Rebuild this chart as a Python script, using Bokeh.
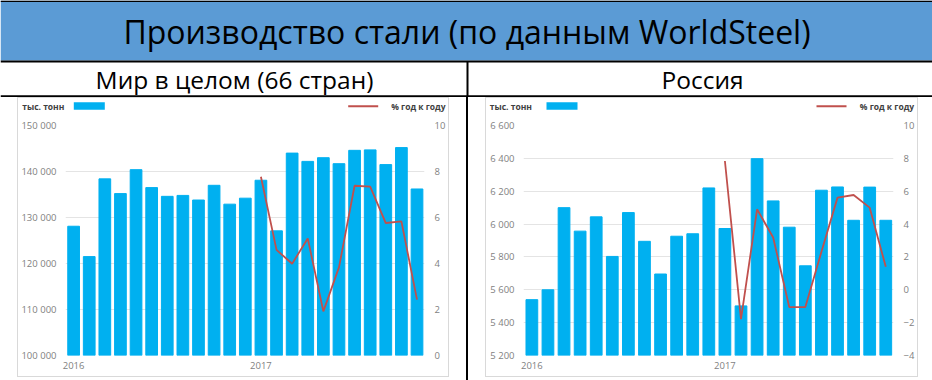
from bokeh.plotting import figure
from bokeh.models import (Range1d, LinearAxis, FixedTicker, Label, Span, Spacer,
                          ColumnDataSource)
from bokeh.layouts import column, row
from bokeh.embed import file_html
from bokeh.resources import INLINE

# ---------------- data ----------------
months = ["2016-01", "2016-02", "2016-03", "2016-04", "2016-05", "2016-06",
          "2016-07", "2016-08", "2016-09", "2016-10", "2016-11", "2016-12",
          "2017-01", "2017-02", "2017-03", "2017-04", "2017-05", "2017-06",
          "2017-07", "2017-08", "2017-09", "2017-10", "2017-11"]
world_prod = [128100, 121500, 138400, 135200, 140400, 136500, 134600, 134800,
              133800, 137000, 132900, 134200, 138100, 127100, 144000, 142200,
              143000, 141700, 144600, 144700, 141500, 145200, 136200]
world_yoy = [None] * 12 + [7.77, 4.59, 3.99, 5.09, 1.92, 3.83, 7.38, 7.34, 5.76, 5.83, 2.43]
russia_prod = [5540, 5600, 6100, 5957, 6044, 5803, 6070, 5895, 5696, 5926, 5941, 6220,
               5973, 5502, 6398, 6141, 5981, 5746, 6206, 6226, 6023, 6225, 6023]
russia_yoy = [None] * 12 + [7.84, -1.79, 4.90, 3.18, -1.05, -1.05, 2.31, 5.61, 5.77, 5.00, 1.40]
year_labels = {0: "2016", 12: "2017"}
world_ticks = [100000, 110000, 120000, 130000, 140000, 150000]
world_pct_ticks = [0, 2, 4, 6, 8, 10]
russia_ticks = [5200, 5400, 5600, 5800, 6000, 6200, 6400, 6600]
russia_pct_ticks = [-4, -2, 0, 2, 4, 6, 8, 10]

main_title = "Производство стали (по данным WorldSteel)"
left_title = "Мир в целом (66 стран)"
right_title = "Россия"
unit_text = "тыс. тонн"
pct_text = "% год к году"

FONT = "Open Sans"
BAR = "#00B0F0"
LINE = "#C0504D"
TICK = "#7F7F7F"
LEGTXT = "#404040"

LEG_H = 19
CH_H = 259
MB_TOP, MB_BOTTOM = 8, 21


def fmt(v):
    return f"{v:,}".replace(",", " ")


def blank(width, height):
    f = figure(width=width, height=height, x_range=Range1d(0, width), y_range=Range1d(0, height),
               output_backend="svg", toolbar_location=None,
               x_axis_type=None, y_axis_type=None, min_border=0)
    f.outline_line_color = None
    f.xgrid.grid_line_color = None
    f.ygrid.grid_line_color = None
    f.frame_align = False
    return f


def make_legend(width, unit_x, swatch_x, line_x, label_x):
    lf = blank(width, LEG_H)
    lf.add_layout(Label(x=unit_x, y=LEG_H - 7.7, text=unit_text, text_baseline="middle",
                        text_align="left", text_font=FONT, text_font_size="8.5px",
                        text_font_style="bold", text_color=LEGTXT))
    lf.quad(left=swatch_x, right=swatch_x + 31, bottom=LEG_H - 11.3, top=LEG_H - 3.7,
            color=BAR, line_color=None)
    lf.segment(x0=line_x, y0=LEG_H - 7.7, x1=line_x + 30, y1=LEG_H - 7.7,
               line_color=LINE, line_width=2)
    lf.add_layout(Label(x=label_x, y=LEG_H - 7.7, text=pct_text, text_baseline="middle",
                        text_align="left", text_font=FONT, text_font_size="8.5px",
                        text_font_style="bold", text_color=LEGTXT))
    return lf


def make_chart(width, prod, yoy, ticks, pct_ticks, mb_left, mb_right, bar_w):
    xs = list(range(len(months)))
    p = figure(width=width, height=CH_H,
               x_range=Range1d(-0.52, len(months) - 0.52),
               y_range=Range1d(ticks[0], ticks[-1]),
               output_backend="svg", toolbar_location=None,
               min_border_left=mb_left, min_border_right=mb_right,
               min_border_top=MB_TOP, min_border_bottom=MB_BOTTOM)
    p.frame_align = False
    p.outline_line_color = None
    p.extra_y_ranges = {"pct": Range1d(pct_ticks[0], pct_ticks[-1])}

    src = ColumnDataSource(dict(x=xs, top=prod))
    p.vbar(x="x", top="top", bottom=ticks[0], width=bar_w, color=BAR, source=src)

    lx = [x for x, v in zip(xs, yoy) if v is not None]
    ly = [v for v in yoy if v is not None]
    p.line(lx, ly, y_range_name="pct", line_color=LINE, line_width=1.8)

    p.xaxis.ticker = FixedTicker(ticks=list(year_labels.keys()))
    p.xaxis.major_label_overrides = {k: v for k, v in year_labels.items()}
    p.yaxis.ticker = FixedTicker(ticks=ticks)
    p.yaxis.major_label_overrides = {t: fmt(t) for t in ticks}
    rax = LinearAxis(y_range_name="pct", ticker=FixedTicker(ticks=pct_ticks))
    p.add_layout(rax, "right")

    for ax in [p.xaxis[0], p.yaxis[0], rax]:
        ax.axis_line_color = None
        ax.major_tick_line_color = None
        ax.minor_tick_line_color = None
        ax.major_tick_out = 0
        ax.major_tick_in = 0
        ax.major_label_text_color = TICK
        ax.major_label_text_font = FONT
        ax.major_label_text_font_size = "9.5px"
    p.xaxis.major_label_standoff = 6
    p.yaxis[0].major_label_standoff = 9
    rax.major_label_standoff = 10

    p.xgrid.grid_line_color = None
    p.ygrid.ticker = FixedTicker(ticks=ticks)
    p.ygrid.grid_line_color = "#E4E4E4"
    p.ygrid.grid_line_width = 1
    return p


PANEL_BORDER = {"border": "1px solid #D9D9D9"}
left_panel = column(make_legend(430, 3.7, 55.3, 329.7, 372.7),
                    make_chart(430, world_prod, world_yoy, world_ticks, world_pct_ticks,
                               47, 23, 0.75),
                    styles=PANEL_BORDER)
right_panel = column(make_legend(431, 3.3, 60, 330, 373.3),
                     make_chart(431, russia_prod, russia_yoy, russia_ticks, russia_pct_ticks,
                                37, 24, 0.73),
                     styles=PANEL_BORDER)

# ---------------- header ----------------
HW, HH = 932, 97
h = blank(HW, HH)
h.quad(left=0, right=HW, bottom=HH - 60, top=HH, color="#5B9BD5", line_color=None)
h.add_layout(Span(location=HH - 0.7, dimension="width", line_color="black", line_width=1.4))
h.add_layout(Span(location=HH - 61, dimension="width", line_color="black", line_width=2))
h.add_layout(Span(location=1.2, dimension="width", line_color="black", line_width=2))
h.segment(x0=467, y0=0, x1=467, y1=HH - 61, line_color="black", line_width=2)
h.add_layout(Label(x=466.5, y=HH - 31, text=main_title, text_align="center",
                   text_baseline="middle", text_font=FONT,
                   text_font_size="32px", text_color="black"))
h.add_layout(Label(x=234, y=18.5, text=left_title, text_align="center",
                   text_baseline="middle", text_font=FONT,
                   text_font_size="24.5px", text_color="black"))
h.add_layout(Label(x=702, y=18.5, text=right_title, text_align="center",
                   text_baseline="middle", text_font=FONT,
                   text_font_size="24.5px", text_color="black"))

divider = Spacer(width=2, height=283, styles={"background-color": "black"})
charts = row(Spacer(width=17, height=10), left_panel, Spacer(width=17, height=10), divider,
             Spacer(width=17, height=10), right_panel)
page = column(h, charts)

open("out.html", "w").write(file_html(page, INLINE))
